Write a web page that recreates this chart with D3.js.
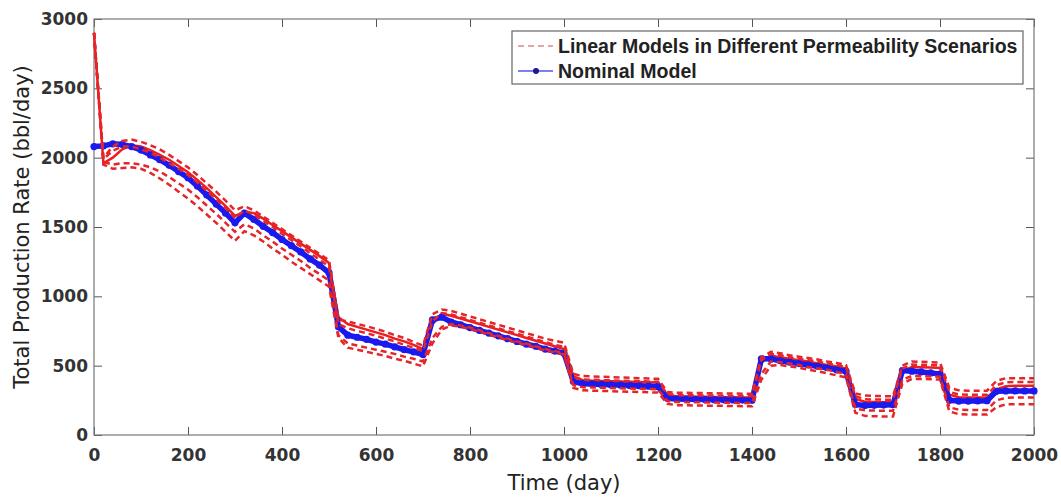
<!DOCTYPE html>
<html>
<head>
<meta charset="utf-8">
<script src="https://cdn.jsdelivr.net/npm/d3@7"></script>
<style>
  body { margin: 0; background: #fff; }
  svg { display: block; }
</style>
</head>
<body>
<div id="chart"></div>
<script>
// sampling days (every 20 days)
const days = [0,20,40,60,80,100,120,140,160,180,200,220,240,260,280,300,
  320,340,360,380,400,420,440,460,480,500,520,540,560,580,600,620,640,660,680,700,
  720,740,760,780,800,820,840,860,880,900,920,940,960,980,1000,
  1020,1040,1060,1080,1100,1120,1140,1160,1180,1200,1220,1240,1260,1280,1300,1320,1340,1360,1380,1400,
  1420,1440,1460,1480,1500,1520,1540,1560,1580,1600,1620,1640,1660,1680,1700,
  1720,1740,1760,1780,1800,1820,1840,1860,1880,1900,1920,1940,1960,1980,2000];

// nominal model (blue)
const nominal = [2080,2085,2100,2095,2080,2055,2020,1985,1945,1900,1855,1795,1730,1665,1600,1530,
  1600,1555,1505,1460,1410,1365,1320,1270,1225,1170,
  780,720,705,690,670,655,635,615,600,580,
  830,850,815,795,775,755,735,715,695,675,655,640,620,605,590,
  385,370,368,365,362,360,357,355,352,350,
  265,260,258,257,256,255,254,253,252,250,
  550,550,535,525,515,505,495,485,470,460,
  220,212,214,216,218,
  465,460,455,448,440,
  250,245,245,246,247,
  315,318,318,318,318];

// linear models, different permeability scenarios (red)
const scenarioSolid = [2900,1960,2000,2060,2090,2080,2055,2020,1985,1940,1895,1840,1780,1715,1650,1580,
  1610,1600,1560,1515,1470,1425,1380,1335,1290,1240,
  850,800,780,760,740,720,695,675,650,620,
  800,875,860,840,820,800,780,760,740,720,700,680,660,640,620,
  420,395,392,390,388,386,384,382,380,378,
  290,278,277,276,275,274,273,272,271,270,
  520,575,560,550,540,530,515,505,495,480,
  260,240,238,237,236,
  460,490,488,486,484,
  290,272,270,270,270,
  330,352,355,355,355];

const scenario1 = [2900,2000,2080,2120,2130,2115,2090,2060,2020,1975,1930,1875,1815,1755,1690,1620,
  1650,1620,1575,1530,1485,1440,1395,1350,1305,1260,
  830,820,800,785,765,745,720,700,670,645,
  870,905,895,875,855,835,815,795,775,755,735,715,695,680,665,
  440,425,422,420,417,415,412,410,407,405,
  310,305,304,303,302,301,300,299,298,297,
  560,600,590,575,565,555,545,530,520,505,
  300,285,282,280,280,
  500,530,528,525,522,
  340,322,320,320,320,
  390,410,410,410,410];

const scenario2 = [2900,1990,2050,2080,2080,2060,2035,2000,1960,1920,1875,1820,1760,1700,1635,1565,
  1620,1590,1545,1500,1450,1405,1360,1310,1265,1215,
  800,770,750,735,715,695,675,650,630,605,
  820,880,870,850,830,810,790,770,750,730,710,690,670,650,635,
  420,400,398,396,394,392,390,388,386,384,
  295,288,287,286,285,284,283,282,281,280,
  540,585,575,560,550,540,530,515,505,490,
  280,258,256,255,255,
  480,508,506,504,502,
  310,292,290,290,290,
  360,380,382,382,382];

const scenario3 = [2900,1970,1950,1960,1960,1950,1930,1900,1860,1815,1770,1715,1655,1595,1530,1465,
  1520,1490,1440,1395,1345,1300,1255,1205,1160,1115,
  720,660,645,630,615,600,585,565,550,530,
  700,780,800,790,775,755,735,715,695,675,660,640,620,605,590,
  360,345,343,341,339,337,335,333,331,330,
  245,238,237,236,235,234,233,232,231,230,
  440,530,525,515,505,490,480,470,455,440,
  190,178,176,175,175,
  400,425,424,422,420,
  200,182,180,180,180,
  250,268,270,270,270];

const scenario4 = [2900,1950,1920,1925,1930,1920,1890,1850,1805,1755,1705,1650,1590,1530,1465,1400,
  1470,1440,1395,1345,1300,1250,1205,1160,1115,1070,
  700,630,615,600,585,570,550,535,515,495,
  660,760,790,780,765,745,725,705,685,665,650,630,610,595,580,
  340,322,320,318,316,314,312,310,308,306,
  225,215,214,213,212,211,210,209,208,207,
  400,500,505,495,485,470,460,445,430,415,
  160,138,135,134,134,
  370,405,404,402,400,
  170,150,148,148,148,
  200,222,222,222,222];

const xTicks = [0,200,400,600,800,1000,1200,1400,1600,1800,2000];
const yTicks = [0,500,1000,1500,2000,2500,3000];
const legendLabels = ["Linear Models in Different Permeability Scenarios", "Nominal Model"];

const width = 1061, height = 499;
const margin = { top: 19, right: 27, bottom: 64, left: 94 };

const svg = d3.select("#chart").append("svg")
    .attr("width", width)
    .attr("height", height);

const x = d3.scaleLinear().domain([0, 2000]).range([margin.left, width - margin.right]);
const y = d3.scaleLinear().domain([0, 3000]).range([height - margin.bottom, margin.top]);

const tickFont = "'DejaVu Sans', sans-serif";

// axes, MATLAB style: ticks pointing inward on all four sides
function styleAxis(g) {
    g.select(".domain").remove();
    g.selectAll(".tick line").attr("stroke", "#555");
    g.selectAll(".tick text")
        .attr("fill", "#333")
        .attr("font-family", tickFont)
        .attr("font-weight", "bold")
        .attr("font-size", "17px");
}

svg.append("g")
    .attr("transform", `translate(0,${y(0)})`)
    .call(d3.axisBottom(x).tickValues(xTicks).tickSize(-8).tickPadding(14).tickFormat(d3.format("d")))
    .call(styleAxis);

svg.append("g")
    .attr("transform", `translate(${x(0)},0)`)
    .call(d3.axisLeft(y).tickValues(yTicks).tickSize(-8).tickPadding(6).tickFormat(d3.format("d")))
    .call(styleAxis);

svg.append("g")
    .attr("transform", `translate(0,${y(3000)})`)
    .call(d3.axisTop(x).tickValues(xTicks).tickSize(-8).tickFormat(""))
    .call(styleAxis);

svg.append("g")
    .attr("transform", `translate(${x(2000)},0)`)
    .call(d3.axisRight(y).tickValues(yTicks).tickSize(-8).tickFormat(""))
    .call(styleAxis);

// frame
svg.append("rect")
    .attr("x", x(0))
    .attr("y", y(3000))
    .attr("width", x(2000) - x(0))
    .attr("height", y(0) - y(3000))
    .attr("fill", "none")
    .attr("stroke", "#777")
    .attr("stroke-width", 1.2);

const line = d3.line()
    .x((d, i) => x(days[i]))
    .y(d => y(d));

const plot = svg.append("g");

// solid red scenario
plot.append("path")
    .datum(scenarioSolid)
    .attr("d", line)
    .attr("fill", "none")
    .attr("stroke", "#ee1c1c")
    .attr("stroke-width", 2.5);

// nominal model
plot.append("path")
    .datum(nominal)
    .attr("d", line)
    .attr("fill", "none")
    .attr("stroke", "#1a1aee")
    .attr("stroke-width", 5.5);

plot.selectAll("circle.nom")
    .data(nominal)
    .enter()
    .append("circle")
    .attr("class", "nom")
    .attr("cx", (d, i) => x(days[i]))
    .attr("cy", d => y(d))
    .attr("r", 3.6)
    .attr("fill", "#1a1aee");

// dashed scenarios
const dashed = [scenario1, scenario2, scenario3, scenario4];
plot.selectAll("path.dash")
    .data(dashed)
    .enter()
    .append("path")
    .attr("class", "dash")
    .attr("d", line)
    .attr("fill", "none")
    .attr("stroke", "#e4262a")
    .attr("stroke-width", 2.5)
    .attr("stroke-dasharray", "6,4");

// legend
const lg = svg.append("g");
lg.append("rect")
    .attr("x", 512).attr("y", 31)
    .attr("width", 511).attr("height", 53)
    .attr("fill", "#fff")
    .attr("stroke", "#666")
    .attr("stroke-width", 1.2);

lg.append("line")
    .attr("x1", 518).attr("x2", 553)
    .attr("y1", 46).attr("y2", 46)
    .attr("stroke", "#d88")
    .attr("stroke-width", 1.5)
    .attr("stroke-dasharray", "6,4");

lg.append("line")
    .attr("x1", 518).attr("x2", 553)
    .attr("y1", 71).attr("y2", 71)
    .attr("stroke", "#55e")
    .attr("stroke-width", 1.5);

lg.append("circle")
    .attr("cx", 536).attr("cy", 71).attr("r", 3)
    .attr("fill", "#1a1a8a");

lg.selectAll("text")
    .data(legendLabels)
    .enter()
    .append("text")
    .attr("x", 558)
    .attr("y", (d, i) => 53 + i * 25)
    .attr("font-family", "'Liberation Sans', Arial, sans-serif")
    .attr("font-weight", "bold")
    .attr("font-size", "19.5px")
    .attr("fill", "#222")
    .text(d => d);

// axis titles
svg.append("text")
    .attr("x", (x(0) + x(2000)) / 2)
    .attr("y", 490)
    .attr("text-anchor", "middle")
    .attr("font-family", tickFont)
    .attr("font-size", "21px")
    .attr("fill", "#222")
    .text("Time (day)");

svg.append("text")
    .attr("transform", `translate(29,${(y(0) + y(3000)) / 2}) rotate(-90)`)
    .attr("text-anchor", "middle")
    .attr("font-family", tickFont)
    .attr("font-size", "21px")
    .attr("fill", "#222")
    .text("Total Production Rate (bbl/day)");
</script>
</body>
</html>
